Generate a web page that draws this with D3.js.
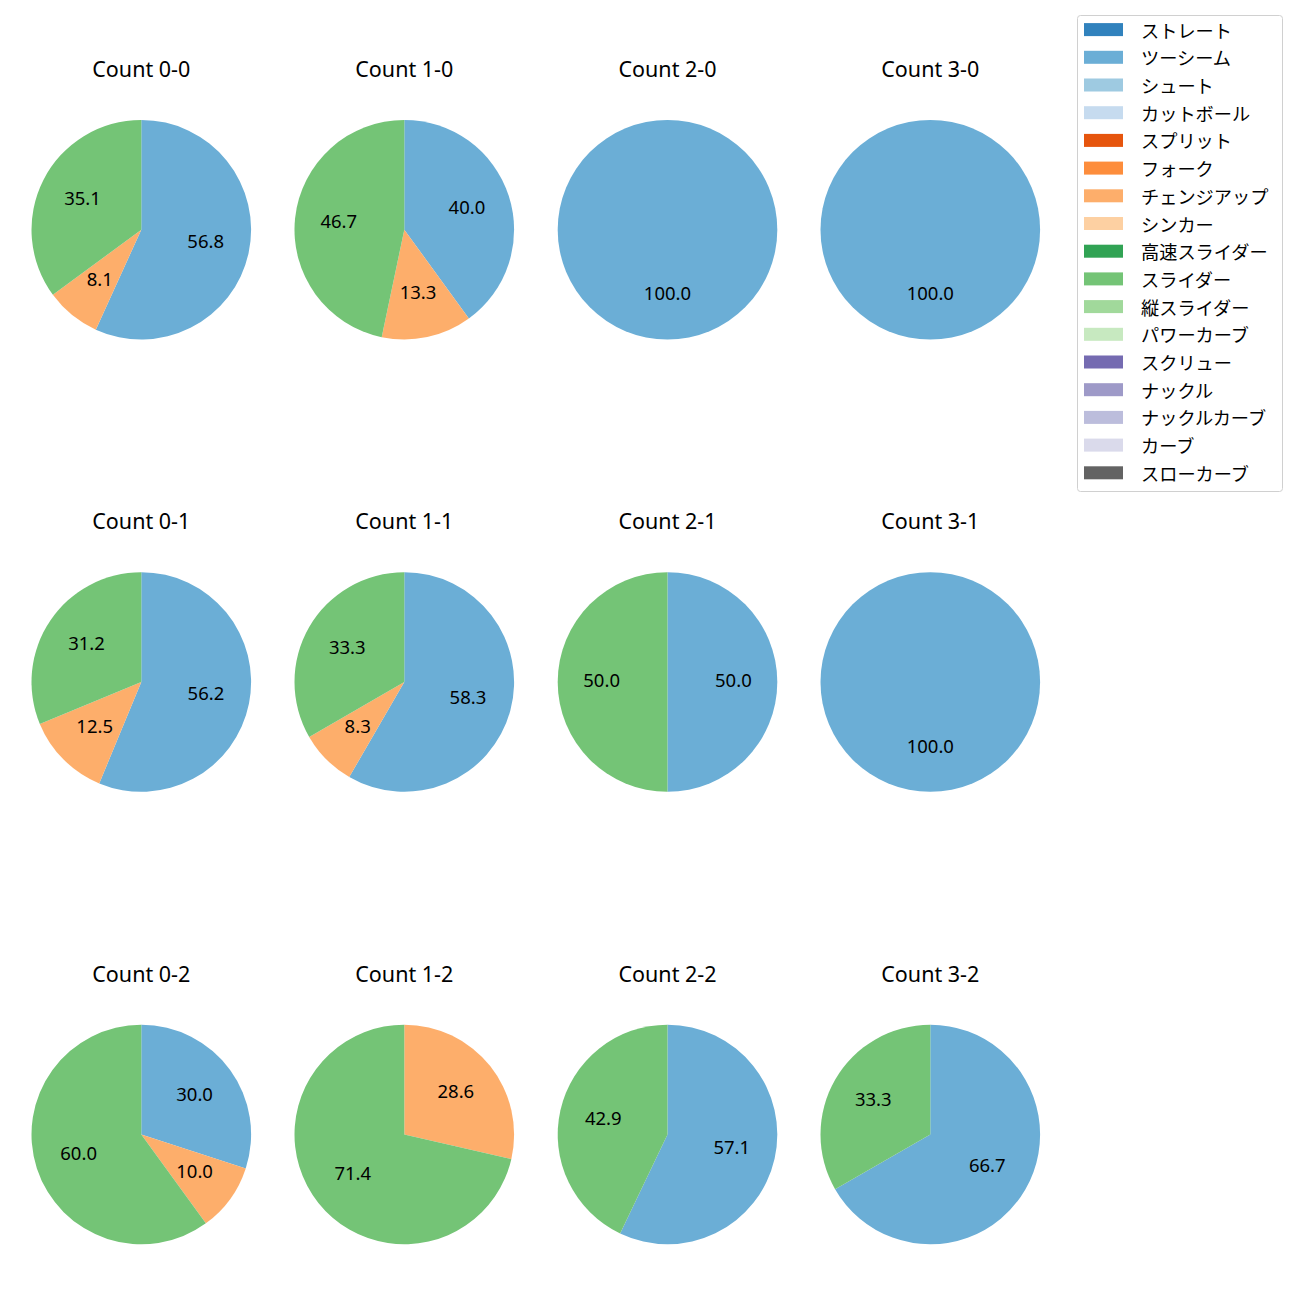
<!DOCTYPE html>
<html><head><meta charset="utf-8">
<script src="https://cdn.jsdelivr.net/npm/d3@7"></script>
<style>body{margin:0;background:#fff}svg{display:block}text{font-family:"Noto Sans","Noto Sans CJK JP",sans-serif}</style>
</head><body>
<script>
// Pitch types (legend order) and their colours
const pitchTypes = ["ストレート","ツーシーム","シュート","カットボール","スプリット","フォーク","チェンジアップ","シンカー","高速スライダー","スライダー","縦スライダー","パワーカーブ","スクリュー","ナックル","ナックルカーブ","カーブ","スローカーブ"];
const pitchColors = ["#3182bd","#6baed6","#9ecae1","#c6dbef","#e6550d","#fd8d3c","#fdae6b","#fdd0a2","#31a354","#74c476","#a1d99b","#c7e9c0","#756bb1","#9e9ac8","#bcbddc","#dadaeb","#636363"];
// Counts (subplot titles), row-major
const counts = ["0-0","1-0","2-0","3-0","0-1","1-1","2-1","3-1","0-2","1-2","2-2","3-2"];
// Percentages per pitch type for each count
const twoSeam   = [56.8, 40.0, 100.0, 100.0, 56.2, 58.3, 50.0, 100.0, 30.0, 0,    57.1, 66.7];
const changeUp  = [8.1,  13.3, 0,     0,     12.5, 8.3,  0,    0,     10.0, 28.6, 0,    0];
const sliderPct = [35.1, 46.7, 0,     0,     31.2, 33.3, 50.0, 0,     60.0, 71.4, 42.9, 33.3];

const W = 1300, H = 1300;
const svg = d3.select("body").append("svg").attr("width", W).attr("height", H);
const color = d3.scaleOrdinal().domain(pitchTypes).range(pitchColors);

const colX = [141.3, 404.3, 667.5, 930.3];
const rowY = [229.7, 682, 1134.5];
const R = 109.8;

const pie = d3.pie().sort(null).value(d => d.v).startAngle(0).endAngle(2 * Math.PI);
const arc = d3.arc().innerRadius(0).outerRadius(R);

counts.forEach((c, i) => {
  const cx = colX[i % 4], cy = rowY[Math.floor(i / 4)];
  const data = [
    {k: "ツーシーム", v: twoSeam[i]},
    {k: "チェンジアップ", v: changeUp[i]},
    {k: "スライダー", v: sliderPct[i]}
  ].filter(d => d.v > 0);
  const g = svg.append("g").attr("transform", `translate(${cx},${cy})`);
  const arcs = pie(data);
  g.selectAll("path").data(arcs).join("path")
    .attr("d", arc).attr("fill", d => color(d.data.k));
  g.selectAll("text.lbl").data(arcs).join("text").attr("class", "lbl")
    .attr("transform", d => {
      const m = (d.startAngle + d.endAngle) / 2;
      return `translate(${Math.sin(m) * R * 0.6},${-Math.cos(m) * R * 0.6 + 4.8})`;
    })
    .attr("text-anchor", "middle")
    .attr("font-size", 18.5).attr("fill", "#000")
    .text(d => d.data.v.toFixed(1));
  svg.append("text").attr("x", cx).attr("y", cy - 153)
    .attr("text-anchor", "middle")
    .attr("font-size", 21.5).attr("fill", "#000")
    .text("Count " + c);
});

// Legend
const lg = svg.append("g");
lg.append("rect").attr("x", 1077.5).attr("y", 15.5).attr("width", 205).attr("height", 476)
  .attr("rx", 3).attr("fill", "#fff").attr("stroke", "#d0d0d0").attr("stroke-width", 1);
pitchTypes.forEach((p, i) => {
  const y = 29.6 + i * 27.7;
  lg.append("rect").attr("x", 1084).attr("y", y - 6.5).attr("width", 39).attr("height", 13).attr("fill", color(p));
  lg.append("text").attr("x", 1141).attr("y", y).attr("dominant-baseline", "central")
    .style("font-family", '"Noto Sans CJK JP",sans-serif')
    .attr("font-size", 18.2).attr("fill", "#000").text(p);
});
</script>
</body></html>
